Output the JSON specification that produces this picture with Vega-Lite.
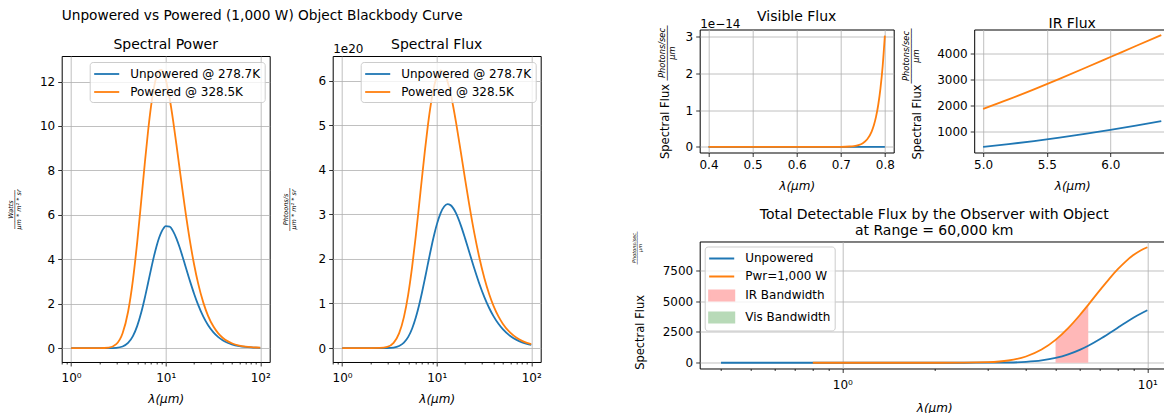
{
  "$schema": "https://vega.github.io/schema/vega-lite/v6.json",
  "usermeta": {"embedOptions": {"actions": false}},
  "background": "white",
  "padding": {"left": 6.7, "top": 8.5, "right": -6, "bottom": 0},
  "config": {
    "font": "DejaVu Sans",
    "view": {"stroke": "#000000", "strokeWidth": 1},
    "axis": {
      "grid": true, "gridColor": "#b0b0b0", "gridWidth": 0.8,
      "domain": false,
      "tickColor": "#000000", "tickSize": 4, "tickWidth": 0.8,
      "labelColor": "#000000", "labelFont": "DejaVu Sans", "labelFontSize": 12, "labelPadding": 3,
      "labelFlush": false, "labelOverlap": false, "labelBound": false,
      "titleColor": "#000000", "titleFont": "DejaVu Sans", "titleFontWeight": "normal", "titleFontSize": 12
    },
    "title": {"font": "DejaVu Sans", "fontSize": 14, "fontWeight": "normal", "color": "#000000", "frame": "group", "anchor": "middle", "baseline": "alphabetic"},
    "legend": {"labelFont": "DejaVu Sans", "labelFontSize": 12, "labelColor": "#000000", "symbolSize": 225, "symbolOffset": 5, "symbolStrokeWidth": 2, "labelOffset": 15, "padding": 3.5, "rowPadding": 3, "fillColor": "rgba(255,255,255,0.8)", "strokeColor": "#cccccc", "strokeWidth": 1, "cornerRadius": 3},
    "line": {"strokeWidth": 1.8, "interpolate": "monotone"},
    "area": {"interpolate": "monotone"}
  },
  "datasets": {
    "bb_unp": [
      {"lam": 1, "power": 0, "flux": 0},
      {"lam": 1.5, "power": 1.42e-8, "flux": 1.07e11},
      {"lam": 2, "power": 1.835e-5, "flux": 1.85e14},
      {"lam": 2.5, "power": 0.00105, "flux": 1.321e16},
      {"lam": 3, "power": 0.013184, "flux": 1.991e17},
      {"lam": 3.5, "power": 0.07128, "flux": 1.2559e18},
      {"lam": 4, "power": 0.2311, "flux": 4.653e18},
      {"lam": 4.5, "power": 0.5378, "flux": 1.2183e19},
      {"lam": 5, "power": 0.9987, "flux": 2.5137e19},
      {"lam": 5.5, "power": 1.5873, "flux": 4.3948e19},
      {"lam": 6, "power": 2.2468, "flux": 6.7863e19},
      {"lam": 6.5, "power": 2.9193, "flux": 9.5524e19},
      {"lam": 7, "power": 3.5552, "flux": 1.25278e20},
      {"lam": 7.5, "power": 4.119, "flux": 1.55512e20},
      {"lam": 8, "power": 4.5885, "flux": 1.84785e20},
      {"lam": 8.5, "power": 4.9568, "flux": 2.12097e20},
      {"lam": 9, "power": 5.2245, "flux": 2.36701e20},
      {"lam": 9.5, "power": 5.3983, "flux": 2.58162e20},
      {"lam": 10, "power": 5.4885, "flux": 2.76291e20},
      {"lam": 11, "power": 5.4671, "flux": 3.02737e20},
      {"lam": 12, "power": 5.2557, "flux": 3.17484e20},
      {"lam": 13, "power": 4.9301, "flux": 3.22637e20},
      {"lam": 14, "power": 4.5491, "flux": 3.206e20},
      {"lam": 15, "power": 4.1491, "flux": 3.13299e20},
      {"lam": 16, "power": 3.7559, "flux": 3.02515e20},
      {"lam": 18, "power": 3.0369, "flux": 2.7518e20},
      {"lam": 20, "power": 2.4378, "flux": 2.45438e20},
      {"lam": 22, "power": 1.9564, "flux": 2.16668e20},
      {"lam": 25, "power": 1.417, "flux": 1.78329e20},
      {"lam": 28, "power": 1.0405, "flux": 1.46661e20},
      {"lam": 32, "power": 0.7065, "flux": 1.13808e20},
      {"lam": 36, "power": 0.4931, "flux": 8.936e19},
      {"lam": 40, "power": 0.3531, "flux": 7.11e19},
      {"lam": 45, "power": 0.2402, "flux": 5.4413e19},
      {"lam": 50, "power": 0.1686, "flux": 4.2437e19},
      {"lam": 60, "power": 0.08983, "flux": 2.7132e19},
      {"lam": 70, "power": 0.05198, "flux": 1.8317e19},
      {"lam": 80, "power": 0.03207, "flux": 1.2915e19},
      {"lam": 90, "power": 0.02083, "flux": 9.437e18},
      {"lam": 100, "power": 0.0141, "flux": 7.098e18}
    ],
    "bb_pwr": [
      {"lam": 1, "power": 0, "flux": 0},
      {"lam": 1.5, "power": 2.61e-6, "flux": 1.97e13},
      {"lam": 2, "power": 0.000919, "flux": 9.25e15},
      {"lam": 2.5, "power": 0.02404, "flux": 3.025e17},
      {"lam": 3, "power": 0.1791, "flux": 2.7048e18},
      {"lam": 3.5, "power": 0.6667, "flux": 1.17465e19},
      {"lam": 4, "power": 1.6346, "flux": 3.2914e19},
      {"lam": 4.5, "power": 3.0616, "flux": 6.9354e19},
      {"lam": 5, "power": 4.7861, "flux": 1.20466e20},
      {"lam": 5.5, "power": 6.5905, "flux": 1.82469e20},
      {"lam": 6, "power": 8.2858, "flux": 2.50261e20},
      {"lam": 6.5, "power": 9.741, "flux": 3.18741e20},
      {"lam": 7, "power": 10.8896, "flux": 3.83728e20},
      {"lam": 7.5, "power": 11.717, "flux": 4.42373e20},
      {"lam": 8, "power": 12.238, "flux": 4.92853e20},
      {"lam": 8.5, "power": 12.492, "flux": 5.34526e20},
      {"lam": 9, "power": 12.523, "flux": 5.67365e20},
      {"lam": 9.5, "power": 12.373, "flux": 5.91718e20},
      {"lam": 10, "power": 12.088, "flux": 6.0851e20},
      {"lam": 11, "power": 11.247, "flux": 6.22795e20},
      {"lam": 12, "power": 10.22, "flux": 6.1737e20},
      {"lam": 13, "power": 9.1473, "flux": 5.98608e20},
      {"lam": 14, "power": 8.1124, "flux": 5.7173e20},
      {"lam": 15, "power": 7.1534, "flux": 5.40151e20},
      {"lam": 16, "power": 6.2896, "flux": 5.06588e20},
      {"lam": 18, "power": 4.8508, "flux": 4.39545e20},
      {"lam": 20, "power": 3.7526, "flux": 3.77812e20},
      {"lam": 22, "power": 2.9247, "flux": 3.23906e20},
      {"lam": 25, "power": 2.0474, "flux": 2.57665e20},
      {"lam": 28, "power": 1.4651, "flux": 2.06505e20},
      {"lam": 32, "power": 0.9691, "flux": 1.5611e20},
      {"lam": 36, "power": 0.6633, "flux": 1.20207e20},
      {"lam": 40, "power": 0.4678, "flux": 9.4196e19},
      {"lam": 45, "power": 0.3136, "flux": 7.104e19},
      {"lam": 50, "power": 0.2176, "flux": 5.477e19},
      {"lam": 60, "power": 0.11397, "flux": 3.4424e19},
      {"lam": 70, "power": 0.0652, "flux": 2.2975e19},
      {"lam": 80, "power": 0.0399, "flux": 1.6069e19},
      {"lam": 90, "power": 0.02574, "flux": 1.1662e19},
      {"lam": 100, "power": 0.01734, "flux": 8.729e18}
    ],
    "vis_unp": [
      {"lam": 0.4, "v": 0}, {"lam": 0.5, "v": 0}, {"lam": 0.6, "v": 0}, {"lam": 0.7, "v": 0}, {"lam": 0.8, "v": 1.7e-18}
    ],
    "vis_pwr": [
      {"lam": 0.4, "v": 0}, {"lam": 0.5, "v": 0}, {"lam": 0.6, "v": 0}, {"lam": 0.65, "v": 2.3e-19},
      {"lam": 0.7, "v": 2.07e-17}, {"lam": 0.72, "v": 1.05e-16}, {"lam": 0.73, "v": 2.29e-16},
      {"lam": 0.74, "v": 4.87e-16}, {"lam": 0.75, "v": 1.017e-15}, {"lam": 0.76, "v": 2.081e-15},
      {"lam": 0.77, "v": 4.173e-15}, {"lam": 0.775, "v": 5.87e-15}, {"lam": 0.78, "v": 8.217e-15},
      {"lam": 0.785, "v": 1.1454e-14}, {"lam": 0.79, "v": 1.59e-14}, {"lam": 0.795, "v": 2.1968e-14},
      {"lam": 0.8, "v": 3.022e-14}
    ],
    "ir_unp": [
      {"lam": 5.0, "v": 387.85}, {"lam": 5.2, "v": 493.9}, {"lam": 5.4, "v": 613.4}, {"lam": 5.6, "v": 746.2},
      {"lam": 5.8, "v": 891.2}, {"lam": 6.0, "v": 1047.0}, {"lam": 6.2, "v": 1212.2}, {"lam": 6.4, "v": 1385.1}
    ],
    "ir_pwr": [
      {"lam": 5.0, "v": 1858.6}, {"lam": 5.2, "v": 2225.4}, {"lam": 5.4, "v": 2614.4}, {"lam": 5.6, "v": 3020.0},
      {"lam": 5.8, "v": 3437.5}, {"lam": 6.0, "v": 3861.4}, {"lam": 6.2, "v": 4286.8}, {"lam": 6.4, "v": 4709.4}
    ],
    "tot_unp": [
      {"lam": 0.4, "v": 0}, {"lam": 0.5, "v": 0}, {"lam": 0.6, "v": 0}, {"lam": 0.7, "v": 0}, {"lam": 0.8, "v": 0},
      {"lam": 1, "v": 0}, {"lam": 1.5, "v": 0}, {"lam": 2, "v": 0.003}, {"lam": 2.5, "v": 0.204}, {"lam": 3, "v": 3.07},
      {"lam": 3.5, "v": 19.38}, {"lam": 4, "v": 71.8}, {"lam": 4.5, "v": 187.97}, {"lam": 5, "v": 387.85},
      {"lam": 5.5, "v": 678.07}, {"lam": 6, "v": 1047.06}, {"lam": 6.4, "v": 1385.1}, {"lam": 7, "v": 1932.94},
      {"lam": 7.5, "v": 2399.42}, {"lam": 8, "v": 2851.12}, {"lam": 8.5, "v": 3272.49}, {"lam": 9, "v": 3652.12},
      {"lam": 9.5, "v": 3983.21}, {"lam": 10, "v": 4262.92}
    ],
    "tot_pwr": [
      {"lam": 0.8, "v": 0}, {"lam": 1, "v": 0}, {"lam": 1.5, "v": 0.0003}, {"lam": 2, "v": 0.143}, {"lam": 2.5, "v": 4.668},
      {"lam": 3, "v": 41.73}, {"lam": 3.5, "v": 181.24}, {"lam": 4, "v": 507.84}, {"lam": 4.5, "v": 1070.08},
      {"lam": 5, "v": 1858.69}, {"lam": 5.5, "v": 2815.34}, {"lam": 6, "v": 3861.35}, {"lam": 6.4, "v": 4709.4},
      {"lam": 7, "v": 5920.63}, {"lam": 7.5, "v": 6825.42}, {"lam": 8, "v": 7604.25}, {"lam": 8.5, "v": 8247.21},
      {"lam": 9, "v": 8754.08}, {"lam": 9.5, "v": 9129.67}, {"lam": 10, "v": 9388.75}
    ],
    "band_ir": [
      {"lam": 5.0, "v": 1858.6}, {"lam": 5.2, "v": 2225.4}, {"lam": 5.4, "v": 2614.4}, {"lam": 5.6, "v": 3020.0},
      {"lam": 5.8, "v": 3437.5}, {"lam": 6.0, "v": 3861.4}, {"lam": 6.2, "v": 4286.8}, {"lam": 6.4, "v": 4709.4}
    ],
    "band_vis": [
      {"lam": 0.4, "v": 0}, {"lam": 0.8, "v": 0}
    ]
  },
  "align": "none",
  "spacing": 88,
  "resolve": {"scale": {"color": "independent"}, "legend": {"color": "independent"}},
  "hconcat": [
    {
      "bounds": "flush",
      "align": "none",
      "spacing": 25.5,
      "resolve": {"scale": {"color": "independent"}, "legend": {"color": "independent"}},
      "vconcat": [
        {
          "width": 208, "height": 1,
          "view": {"stroke": null, "fill": null},
          "title": {"text": "Unpowered vs Powered (1,000 W) Object Blackbody Curve", "anchor": "start", "frame": "group", "offset": 7.2, "fontSize": 13.7},
          "data": {"values": []},
          "mark": "point"
        },
        {
          "bounds": "flush",
          "align": "none",
          "spacing": 63,
          "resolve": {"scale": {"color": "independent"}, "legend": {"color": "independent"}},
          "hconcat": [
            {
              "width": 208, "height": 306,
              "title": {"text": "Spectral Power", "offset": 3.7},
              "layer": [
                {
                  "data": {"name": "bb_unp"},
                  "mark": "line",
                  "encoding": {
                    "x": {"field": "lam", "type": "quantitative", "scale": {"type": "log", "domain": [0.7943, 125.89], "nice": false},
                          "axis": {"values": [1, 10, 100], "labelExpr": "datum.value == 1 ? '10⁰' : datum.value == 10 ? '10¹' : '10²'", "labelPadding": 7, "title": "λ(µm)", "titleFontStyle": "italic", "titlePadding": 9.5}},
                    "y": {"field": "power", "type": "quantitative", "scale": {"domain": [-0.626, 13.15], "nice": false, "zero": false},
                          "axis": {"orient": "left", "values": [0, 2, 4, 6, 8, 10, 12], "title": ["Watts", "──────────", "µm * m² * sr"], "titleFontSize": 6.5, "titleFontStyle": "italic", "titleLineHeight": 4, "titlePadding": 18}},
                    "color": {"datum": "Unpowered @ 278.7K", "type": "nominal",
                              "scale": {"domain": ["Unpowered @ 278.7K", "Powered @ 328.5K"], "range": ["#1f77b4", "#ff7f0e"]},
                              "legend": {"title": null, "orient": "top-right", "offset": 5.5, "symbolType": "M-1.67,0H1.67"}}
                  }
                },
                {
                  "data": {"name": "bb_pwr"},
                  "mark": "line",
                  "encoding": {
                    "x": {"field": "lam", "type": "quantitative", "scale": {"type": "log", "domain": [0.7943, 125.89], "nice": false},
                          "axis": {"orient": "bottom", "values": [0.8, 0.9, 2, 3, 4, 5, 6, 7, 8, 9, 20, 30, 40, 50, 60, 70, 80, 90], "labels": false, "grid": false, "tickSize": 2, "title": null}},
                    "y": {"field": "power", "type": "quantitative", "scale": {"domain": [-0.626, 13.15], "nice": false, "zero": false}, "axis": null},
                    "color": {"datum": "Powered @ 328.5K", "type": "nominal"}
                  }
                }
              ],
              "resolve": {"axis": {"x": "independent", "y": "independent"}}
            },
            {
              "width": 208, "height": 306,
              "title": {"text": "Spectral Flux", "offset": -9.3},
              "layer": [
                {
                  "data": {"name": "bb_unp"},
                  "mark": "line",
                  "encoding": {
                    "x": {"field": "lam", "type": "quantitative", "scale": {"type": "log", "domain": [0.7943, 125.89], "nice": false},
                          "axis": {"values": [1, 10, 100], "labelExpr": "datum.value == 1 ? '10⁰' : datum.value == 10 ? '10¹' : '10²'", "labelPadding": 7, "title": "λ(µm)", "titleFontStyle": "italic", "titlePadding": 9.5}},
                    "y": {"field": "flux", "type": "quantitative", "scale": {"domain": [-3.12e19, 6.55e20], "nice": false, "zero": false},
                          "axis": {"orient": "left", "values": [0, 1e20, 2e20, 3e20, 4e20, 5e20, 6e20], "labelExpr": "format(datum.value / 1e20, '.0f')", "title": ["Phtoons/s", "───────────", "µm * m² * sr"], "titleFontSize": 6.5, "titleFontStyle": "italic", "titleLineHeight": 4, "titlePadding": 22}},
                    "color": {"datum": "Unpowered @ 278.7K", "type": "nominal",
                              "scale": {"domain": ["Unpowered @ 278.7K", "Powered @ 328.5K"], "range": ["#1f77b4", "#ff7f0e"]},
                              "legend": {"title": null, "orient": "top-right", "offset": 5.5, "symbolType": "M-1.67,0H1.67"}}
                  }
                },
                {
                  "data": {"name": "bb_pwr"},
                  "mark": "line",
                  "encoding": {
                    "x": {"field": "lam", "type": "quantitative", "scale": {"type": "log", "domain": [0.7943, 125.89], "nice": false},
                          "axis": {"orient": "bottom", "values": [0.8, 0.9, 2, 3, 4, 5, 6, 7, 8, 9, 20, 30, 40, 50, 60, 70, 80, 90], "labels": false, "grid": false, "tickSize": 2, "title": null}},
                    "y": {"field": "flux", "type": "quantitative", "scale": {"domain": [-3.12e19, 6.55e20], "nice": false, "zero": false},
                          "axis": {"orient": "left", "labels": false, "ticks": false, "grid": false, "title": "1e20", "titleX": 0, "titleY": -3.5, "titleAngle": 0, "titleAlign": "left", "titleBaseline": "alphabetic", "titleFontSize": 12}},
                    "color": {"datum": "Powered @ 328.5K", "type": "nominal"}
                  }
                }
              ],
              "resolve": {"axis": {"x": "independent", "y": "independent"}}
            }
          ]
        }
      ]
    },
    {
      "bounds": "flush",
      "align": "none",
      "spacing": 212,
      "resolve": {"scale": {"color": "independent"}, "legend": {"color": "independent"}},
      "vconcat": [
        {
          "bounds": "flush",
          "align": "none",
          "spacing": 80.5,
          "hconcat": [
            {
              "width": 194, "height": 123,
              "title": {"text": "Visible Flux", "offset": -7.2},
              "layer": [
                {
                  "data": {"name": "vis_unp"},
                  "mark": {"type": "line", "color": "#1f77b4"},
                  "encoding": {
                    "x": {"field": "lam", "type": "quantitative", "scale": {"domain": [0.38, 0.82], "nice": false, "zero": false},
                          "axis": {"orient": "bottom", "values": [0.4, 0.5, 0.6, 0.7, 0.8], "format": ".1f", "title": "λ(µm)", "titleFontStyle": "italic", "titlePadding": 10}},
                    "y": {"field": "v", "type": "quantitative", "scale": {"domain": [-1.52e-15, 3.19e-14], "nice": false, "zero": false},
                          "axis": {"orient": "left", "values": [0, 1e-14, 2e-14, 3e-14], "labelExpr": "format(datum.value * 1e14, '.0f')", "title": "Spectral Flux", "titleFontSize": 11.5, "titleY": 91.5, "titlePadding": 15}}
                  }
                },
                {
                  "data": {"name": "vis_pwr"},
                  "mark": {"type": "line", "color": "#ff7f0e"},
                  "encoding": {
                    "x": {"field": "lam", "type": "quantitative", "scale": {"domain": [0.38, 0.82], "nice": false, "zero": false},
                          "axis": {"orient": "top", "labels": false, "ticks": false, "grid": false, "title": "1e−14", "titleX": 0, "titleY": -2.5, "titleAngle": 0, "titleAlign": "left", "titleBaseline": "alphabetic", "titleFontSize": 12}},
                    "y": {"field": "v", "type": "quantitative", "scale": {"domain": [-1.52e-15, 3.19e-14], "nice": false, "zero": false},
                          "axis": {"orient": "left", "labels": false, "ticks": false, "grid": false, "title": ["Photons/sec", "───────────", "µm"], "titleFontSize": 8.3, "titleFontStyle": "italic", "titleLineHeight": 5, "titleY": 23, "titlePadding": 23}}
                  }
                }
              ],
              "resolve": {"axis": {"x": "independent", "y": "independent"}}
            },
            {
              "width": 196, "height": 123,
              "title": {"text": "IR Flux", "offset": -3.2},
              "layer": [
                {
                  "data": {"name": "ir_unp"},
                  "mark": {"type": "line", "color": "#1f77b4"},
                  "encoding": {
                    "x": {"field": "lam", "type": "quantitative", "scale": {"domain": [4.93, 6.47], "nice": false, "zero": false},
                          "axis": {"orient": "bottom", "values": [5, 5.5, 6], "format": ".1f", "title": "λ(µm)", "titleFontStyle": "italic", "titlePadding": 10}},
                    "y": {"field": "v", "type": "quantitative", "scale": {"domain": [172, 4925], "nice": false, "zero": false},
                          "axis": {"orient": "left", "values": [1000, 2000, 3000, 4000], "format": "d", "title": "Spectral Flux", "titleFontSize": 11.5, "titleY": 92, "titlePadding": 14}}
                  }
                },
                {
                  "data": {"name": "ir_pwr"},
                  "mark": {"type": "line", "color": "#ff7f0e"},
                  "encoding": {
                    "x": {"field": "lam", "type": "quantitative", "scale": {"domain": [4.93, 6.47], "nice": false, "zero": false}, "axis": null},
                    "y": {"field": "v", "type": "quantitative", "scale": {"domain": [172, 4925], "nice": false, "zero": false},
                          "axis": {"orient": "left", "labels": false, "ticks": false, "grid": false, "title": ["Photons/sec", "───────────", "µm"], "titleFontSize": 8.3, "titleFontStyle": "italic", "titleLineHeight": 5, "titleY": 26, "titlePadding": 54}}
                  }
                }
              ],
              "resolve": {"axis": {"x": "independent", "y": "independent"}}
            }
          ]
        },
        {
          "width": 469, "height": 127,
          "title": {"text": ["Total Detectable Flux by the Observer with Object", "at Range = 60,000 km"], "baseline": "bottom", "lineHeight": 16, "offset": -21},
          "layer": [
            {
              "data": {"name": "band_ir"},
              "mark": {"type": "area", "fillOpacity": 1},
              "encoding": {
                "x": {"field": "lam", "type": "quantitative", "scale": {"type": "log", "domain": [0.3405, 11.747], "nice": false},
                      "axis": {"orient": "bottom", "values": [1, 10], "labelExpr": "datum.value == 1 ? '10⁰' : '10¹'", "labelPadding": 7, "title": "λ(µm)", "titleFontStyle": "italic", "titlePadding": 12}},
                "y": {"field": "v", "type": "quantitative", "stack": null, "scale": {"domain": [-469, 9858], "nice": false, "zero": false},
                      "axis": {"orient": "left", "values": [0, 2500, 5000, 7500], "format": "d", "title": "Spectral Flux", "titleFontSize": 11.5, "titleY": 90.4, "titlePadding": 17}},
                "color": {"datum": "IR Bandwidth", "type": "nominal",
                          "scale": {"domain": ["Unpowered", "Pwr=1,000 W", "IR Bandwidth", "Vis Bandwidth"], "range": ["#1f77b4", "#ff7f0e", "#ffb8b8", "#b8dab8"]},
                          "legend": {"title": null, "orient": "top-left", "offset": 5,
                                     "encode": {"symbols": {"update": {
                                       "shape": {"signal": "(datum.value == 'IR Bandwidth' || datum.value == 'Vis Bandwidth') ? 'M-1.67,-0.67H1.67V0.67H-1.67Z' : 'M-1.67,0H1.67'"},
                                       "stroke": {"signal": "datum.value == 'Unpowered' ? '#1f77b4' : datum.value == 'Pwr=1,000 W' ? '#ff7f0e' : 'transparent'"},
                                       "strokeWidth": {"value": 2},
                                       "opacity": {"value": 1}
                                     }}}}}
              }
            },
            {
              "data": {"name": "band_vis"},
              "mark": {"type": "area", "fillOpacity": 1},
              "encoding": {
                "x": {"field": "lam", "type": "quantitative", "scale": {"type": "log", "domain": [0.3405, 11.747], "nice": false},
                      "axis": {"orient": "bottom", "values": [0.4, 0.5, 0.6, 0.7, 0.8, 0.9, 2, 3, 4, 5, 6, 7, 8, 9], "labels": false, "grid": false, "tickSize": 2, "title": null}},
                "y": {"field": "v", "type": "quantitative", "stack": null, "scale": {"domain": [-469, 9858], "nice": false, "zero": false},
                      "axis": {"orient": "left", "labels": false, "ticks": false, "grid": false, "title": ["Photons/sec", "───────────", "µm"], "titleFontSize": 5, "titleFontStyle": "italic", "titleLineHeight": 3, "titleY": 6, "titlePadding": 57}},
                "color": {"datum": "Vis Bandwidth", "type": "nominal"}
              }
            },
            {
              "data": {"name": "tot_unp"},
              "mark": "line",
              "encoding": {
                "x": {"field": "lam", "type": "quantitative", "scale": {"type": "log", "domain": [0.3405, 11.747], "nice": false}, "axis": null},
                "y": {"field": "v", "type": "quantitative", "scale": {"domain": [-469, 9858], "nice": false, "zero": false}, "axis": null},
                "color": {"datum": "Unpowered", "type": "nominal"}
              }
            },
            {
              "data": {"name": "tot_pwr"},
              "mark": "line",
              "encoding": {
                "x": {"field": "lam", "type": "quantitative", "scale": {"type": "log", "domain": [0.3405, 11.747], "nice": false}, "axis": null},
                "y": {"field": "v", "type": "quantitative", "scale": {"domain": [-469, 9858], "nice": false, "zero": false}, "axis": null},
                "color": {"datum": "Pwr=1,000 W", "type": "nominal"}
              }
            }
          ],
          "resolve": {"axis": {"x": "independent", "y": "independent"}}
        }
      ]
    }
  ]
}
